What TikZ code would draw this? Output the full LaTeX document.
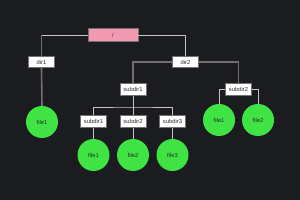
\documentclass[tikz,border=0pt]{standalone}
\usepackage{fontspec}
\setmainfont{Liberation Sans}
\usetikzlibrary{positioning}
\definecolor{BgDark}{HTML}{1B1C20}
\definecolor{RootPink}{HTML}{F39AB2}
\definecolor{FileGreen}{HTML}{3FE444}
\definecolor{LineLight}{HTML}{C4C4C4}
\definecolor{LineDark}{HTML}{707070}
\definecolor{InkDark}{HTML}{2A2A2A}
\tikzset{
    dirbox/.style={draw=LineDark, line width=0.6pt, fill=white, minimum height=11.5pt, minimum width=26pt, inner sep=1pt, font=\fontsize{5.8}{6}\selectfont, text=InkDark},
    rootbox/.style={dirbox, fill=RootPink, minimum width=50pt, minimum height=13pt},
    filenode/.style={circle, fill=FileGreen, minimum size=32pt, inner sep=0pt, font=\fontsize{5.8}{6}\selectfont, text=InkDark},
    thin/.style={draw=LineLight, line width=0.7pt},
    thick/.style={draw=LineDark, line width=1.6pt}
}
\begin{document}
\begin{tikzpicture}[x=1pt, y=-1pt]
    % background
    \fill[BgDark] (0,0) rectangle (300,200);
    \useasboundingbox (0,0) rectangle (300,200);

    % top levels
    \node[rootbox] (root) at (113,35) {/};
    \node[dirbox] (dir1) at (41.5,62) {dir1};
    \node[dirbox] (dir2) at (185.5,62) {dir2};
    \node[filenode] (f1) at (42,122) {file1};

    % under dir2
    \node[dirbox] (sub1) at (133,89.5) {subdir1};
    \node[dirbox] (sub2) at (238.5,89.5) {subdir2};
    \coordinate (bus) at (133,107);
    \node[dirbox] (ssa) at (93.5,121.5) {subdir1};
    \node[dirbox] (ssb) at (133,121.5) {subdir2};
    \node[dirbox] (ssc) at (172.5,121.5) {subdir3};
    \node[filenode] (fa) at (93.5,155) {file1};
    \node[filenode] (fb) at (133,155) {file2};
    \node[filenode] (fc) at (172.5,155) {file3};
    \node[filenode] (fd) at (219,120) {file1};
    \node[filenode] (fe) at (258,120) {file2};

    % connectors
    \draw[thin] (root.east) -| (dir2.north);
    \draw[thin] (root.west) -- (root.west -| dir1);
    \draw[thick] (root.west -| dir1) -- (dir1.north);
    \draw[thick] (dir1.south) -- (f1.north);
    \draw[thick] (dir2.west) -| (sub1.north);
    \draw[thick] (dir2.east) -| (sub2.north);
    \draw[thin] (sub1.south) -- (ssb.north);
    \draw[thin] (ssa.north) |- (bus) -| (ssc.north);
    \draw[thin] (ssa.south) -- (fa.north);
    \draw[thin] (ssb.south) -- (fb.north);
    \draw[thin] (ssc.south) -- (fc.north);
    \draw[thin] (sub2.west) -| (fd.north);
    \draw[thin] (sub2.east) -| (fe.north);
\end{tikzpicture}
\end{document}
